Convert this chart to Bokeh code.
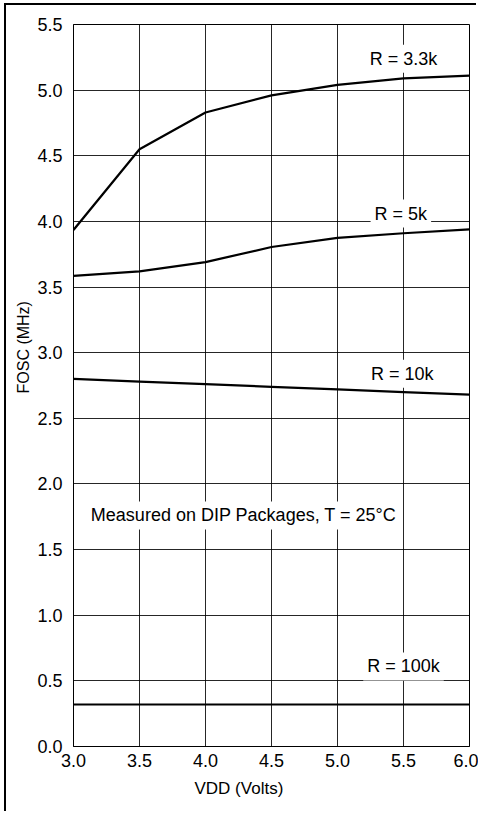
from bokeh.plotting import figure
from bokeh.models import Label, FixedTicker, NumeralTickFormatter, Title
from bokeh.embed import file_html
from bokeh.resources import INLINE

vdd = [3.0, 3.5, 4.0, 4.5, 5.0, 5.5, 6.0]
f_3k3 = [3.935, 4.55, 4.83, 4.96, 5.04, 5.09, 5.11]
f_5k = [3.585, 3.62, 3.69, 3.805, 3.875, 3.91, 3.94]
f_10k = [2.80, 2.78, 2.76, 2.74, 2.72, 2.70, 2.68]
f_100k = [0.32, 0.32, 0.32, 0.32, 0.32, 0.32, 0.32]

x_ticks = [3.0, 3.5, 4.0, 4.5, 5.0, 5.5, 6.0]
y_ticks = [0.0, 0.5, 1.0, 1.5, 2.0, 2.5, 3.0, 3.5, 4.0, 4.5, 5.0, 5.5]

curve_labels = ["R = 3.3k", "R = 5k", "R = 10k", "R = 100k"]
label_x = [5.5, 5.48, 5.49, 5.5]
label_y = [5.24, 4.06, 2.84, 0.61]

note = "Measured on DIP Packages, T = 25°C"
x_title = "VDD (Volts)"
y_title = "FOSC (MHz)"

FONT = "Liberation Sans"

p = figure(width=472, height=808, x_range=(3.0, 6.0), y_range=(0.0, 5.5),
           output_backend="svg", toolbar_location=None,
           min_border_left=67, min_border_right=9, min_border_top=19, min_border_bottom=67)
p.margin = (5, 0, 0, 6)
p.styles = {"box-shadow": "-2px -2px 0px 0px black"}

p.background_fill_color = "white"
p.border_fill_color = None
p.outline_line_color = "black"
p.outline_line_width = 1

for ax in (p.xaxis[0], p.yaxis[0]):
    ax.major_tick_line_color = None
    ax.minor_tick_line_color = None
    ax.axis_line_color = "black"
    ax.major_label_text_font = FONT
    ax.major_label_text_font_size = "18px"
    ax.major_label_text_color = "black"
    ax.formatter = NumeralTickFormatter(format="0.0")

p.xaxis.ticker = FixedTicker(ticks=x_ticks)
p.yaxis.ticker = FixedTicker(ticks=y_ticks)
p.xaxis.major_label_standoff = 1
p.yaxis.major_label_standoff = 5

p.xgrid.ticker = FixedTicker(ticks=x_ticks)
p.ygrid.ticker = FixedTicker(ticks=y_ticks)
p.grid.grid_line_color = "black"
p.grid.grid_line_width = 1
p.grid.grid_line_alpha = 0.85

for series in (f_3k3, f_5k, f_10k, f_100k):
    p.line(vdd, series, line_color="black", line_width=2.2)

for txt, lx, ly in zip(curve_labels, label_x, label_y):
    p.add_layout(Label(x=lx, y=ly, text=txt, text_align="center", text_baseline="middle",
                       text_font=FONT, text_font_size="18px", text_color="black",
                       background_fill_color="white", padding=4))

p.add_layout(Label(x=4.29, y=1.76, text=note, text_align="center", text_baseline="middle",
                   text_font=FONT, text_font_size="18px", text_color="black",
                   background_fill_color="white", padding=4))

p.add_layout(Title(text=x_title, align="left", offset=121, text_font=FONT,
                   text_font_size="17px", text_font_style="normal", text_color="black",
                   standoff=15), "below")
p.add_layout(Title(text=y_title, align="left", offset=353, text_font=FONT,
                   text_font_size="16px", text_font_style="normal", text_color="black",
                   standoff=6), "left")

open("out.html", "w").write(file_html(p, INLINE))
